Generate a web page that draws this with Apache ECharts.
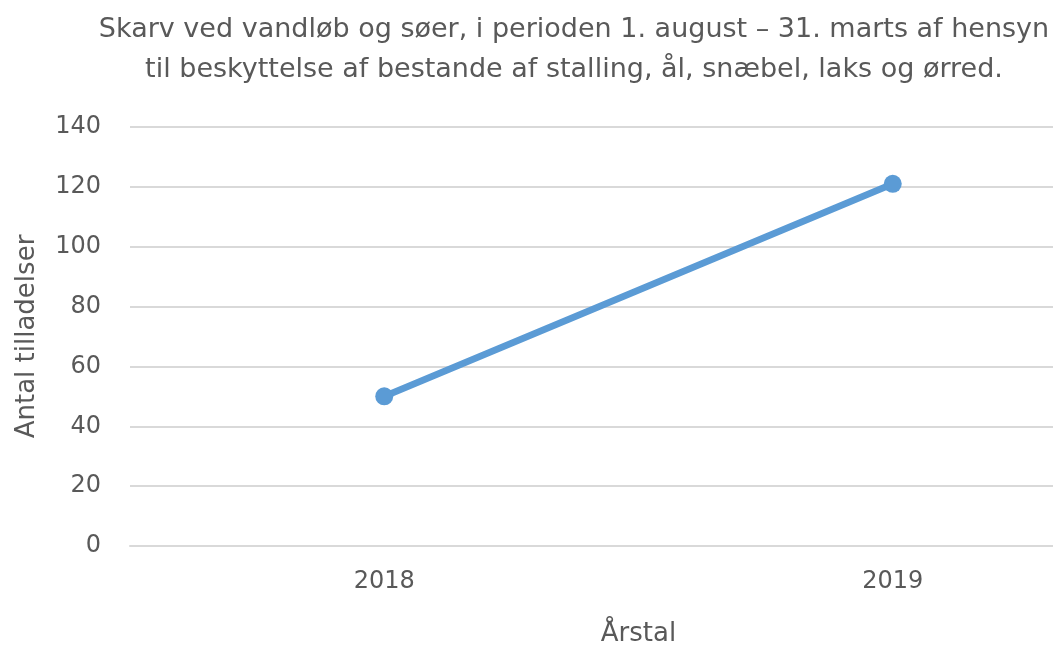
<!DOCTYPE html>
<html>
<head>
<meta charset="utf-8">
<script src="https://cdn.jsdelivr.net/npm/echarts@6/dist/echarts.min.js"></script>
<style>
html, body { margin: 0; padding: 0; background: #fff; }
#chart { width: 1053px; height: 645px; }
</style>
</head>
<body>
<div id="chart"></div>
<script>
"use strict";

// data
var years = ['2018', '2019'];
var tilladelser = [50, 121];
var yTicks = { min: 0, max: 140, interval: 20 };

var titleText = 'Skarv ved vandløb og søer, i perioden 1. august – 31. marts af hensyn\ntil beskyttelse af bestande af stalling, ål, snæbel, laks og ørred.';

var grey = '#595959';
var font = '"DejaVu Sans", "Liberation Sans", sans-serif';

var chart = echarts.init(document.getElementById('chart'));
var option = {
	animation: false,
	title: {
		text: titleText,
		left: 569,
		top: 5,
		textAlign: 'center',
		textStyle: {
			color: grey,
			fontFamily: font,
			fontSize: 27,
			fontWeight: 'normal',
			lineHeight: 40
		}
	},
	// plot area runs past the right edge, like the cropped original
	grid: {
		left: 130,
		right: -94,
		top: 127,
		bottom: 99,
		outerBoundsMode: 'none',
		containLabel: false
	},
	xAxis: {
		type: 'category',
		data: years,
		boundaryGap: true,
		name: 'Årstal',
		nameLocation: 'middle',
		nameGap: 75,
		nameTextStyle: { color: grey, fontFamily: font, fontSize: 26 },
		axisLine: { show: true, lineStyle: { color: '#d9d9d9', width: 2 } },
		axisTick: { show: false },
		axisLabel: { color: grey, fontFamily: font, fontSize: 24, margin: 24 }
	},
	yAxis: {
		type: 'value',
		min: yTicks.min,
		max: yTicks.max,
		interval: yTicks.interval,
		name: 'Antal tilladelser',
		nameLocation: 'middle',
		nameGap: 90,
		nameTextStyle: { color: grey, fontFamily: font, fontSize: 26 },
		axisLine: { show: false },
		axisTick: { show: false },
		axisLabel: { color: grey, fontFamily: font, fontSize: 24, margin: 29 },
		splitLine: { lineStyle: { color: '#d9d9d9', width: 2 } }
	},
	series: [{
		type: 'line',
		data: tilladelser,
		symbol: 'circle',
		symbolSize: 18,
		lineStyle: { color: '#5b9bd5', width: 7, cap: 'round' },
		itemStyle: { color: '#5b9bd5' }
	}]
};
chart.setOption(option);
</script>
</body>
</html>
